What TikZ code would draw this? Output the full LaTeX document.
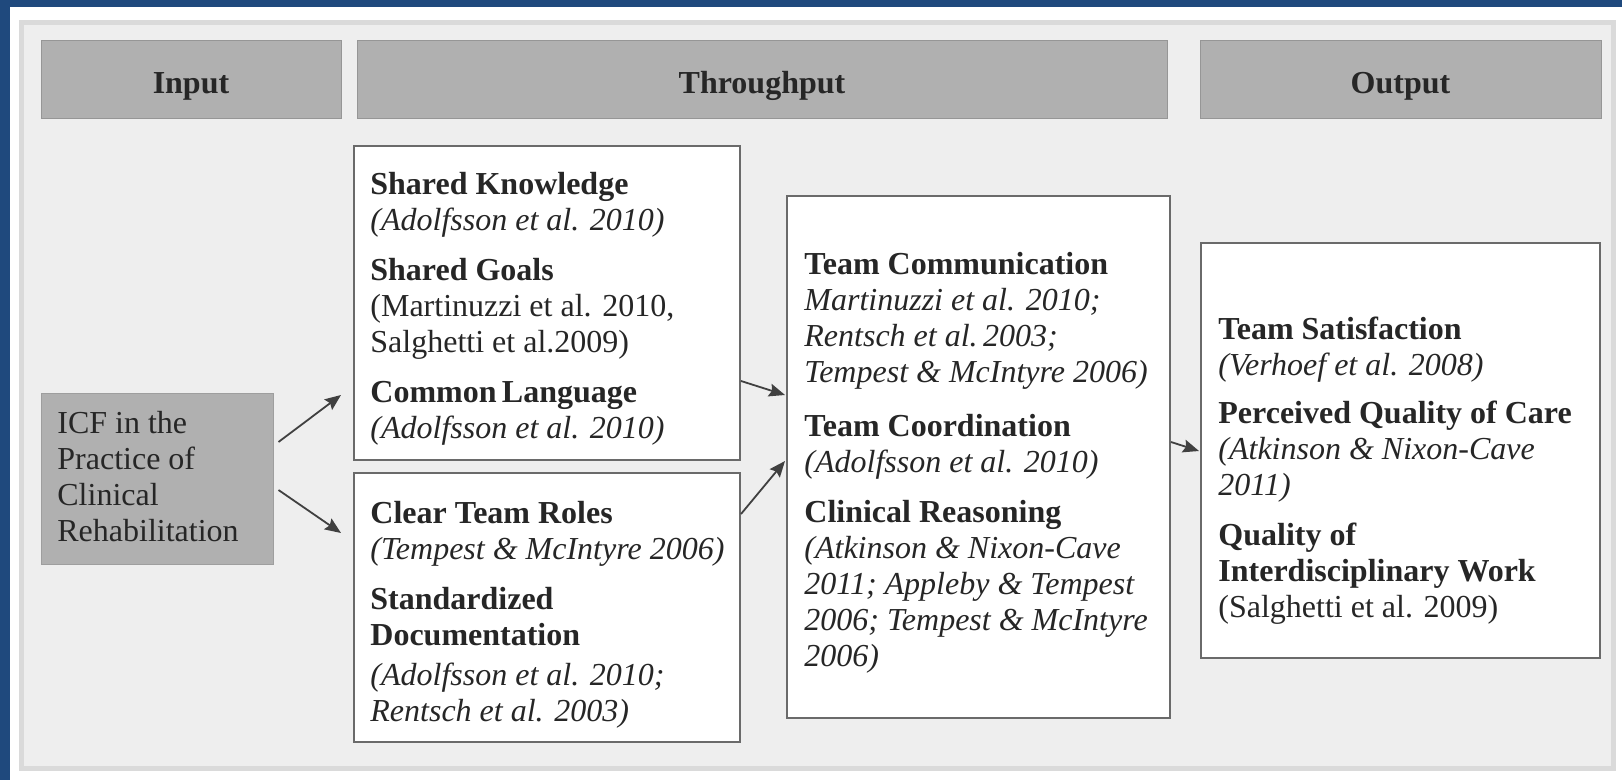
\documentclass[tikz,border=0pt]{standalone}
\usepackage{fontspec}
\setmainfont{Liberation Serif}
\usepackage{tikz}
\usetikzlibrary{arrows.meta,calc}

\definecolor{frameblue}{HTML}{1F497D}
\definecolor{panelgray}{HTML}{EEEEEE}
\definecolor{panelline}{HTML}{DADADA}
\definecolor{headgray}{HTML}{B0B0B0}
\definecolor{boxline}{HTML}{6A6A6A}
\definecolor{arrowgray}{HTML}{404040}

\begin{document}
\begin{tikzpicture}[x=0.5pt,y=-0.5pt,
  every node/.style={font=\fontsize{16}{18}\selectfont, text=black!85},
  head/.style={fill=headgray, draw=headgray!85!black, line width=0.5pt, text height=13.4pt, text depth=0pt,
    font=\fontsize{16}{18}\selectfont\bfseries},
  wbox/.style={draw=boxline, fill=white, line width=1pt},
  txt/.style={anchor=north west, align=left, inner sep=0pt},
  arr/.style={draw=arrowgray, line width=0.9pt, -{Stealth[length=8pt,width=6.5pt,inset=1.2pt]}}]

  \useasboundingbox (0,0) rectangle (1622,780);
  \fill[white] (0,0) rectangle (1622,780);
  \fill[frameblue] (0,0) rectangle (1622,7); % top border
  \fill[frameblue] (0,0) rectangle (10,780); % left border
  \filldraw[fill=panelgray, draw=panelline, line width=2.5pt] (21,23) rectangle (1613,768); % panel

  % Headers
  \node[head, minimum width=150pt, minimum height=39pt] (inp) at (191,80) {Input};
  \node[head, minimum width=405pt, minimum height=39pt] (thr) at (762,80) {Throughput};
  \node[head, minimum width=200.5pt, minimum height=39pt] (outp) at (1400.5,80) {Output};

  % Input
  \node[fill=headgray, draw=headgray!90!black, line width=0.5pt, minimum width=116pt, minimum height=85pt] (icf) at (157,479) {};
  \node[txt] (icftext) at (57,411) {ICF in the\\ Practice of\\ Clinical\\ Rehabilitation};

  % Throughput, first column
  \node[wbox, minimum width=193pt, minimum height=157pt] (know) at (547,303) {};
  \node[txt] (knowtext) at (370,172) {\textbf{Shared Knowledge}\\ \textit{(Adolfsson et al. 2010)}\\[7pt]
    \textbf{Shared Goals}\\ (Martinuzzi et al. 2010,\\ Salghetti et al.2009)\\[7pt]
    \textbf{Common\,Language}\\ \textit{(Adolfsson et al. 2010)}};

  \node[wbox, minimum width=193pt, minimum height=134.5pt] (roles) at (547,607.5) {};
  \node[txt] (rolestext) at (370,501) {\textbf{Clear Team Roles}\\ \textit{(Tempest \& McIntyre 2006)}\\[7pt]
    \textbf{Standardized}\\ \textbf{Documentation}\\[2pt] \textit{(Adolfsson et al. 2010;}\\ \textit{Rentsch et al. 2003)}};

  % Throughput, second column
  \node[wbox, minimum width=191.5pt, minimum height=261pt] (comm) at (978.5,457) {};
  \node[txt] (commtext) at (804,252) {\textbf{Team Communication}\\ \textit{Martinuzzi et al. 2010;}\\
    \textit{Rentsch et al.\,2003;}\\ \textit{Tempest \& McIntyre 2006)}\\[9pt]
    \textbf{Team Coordination}\\ \textit{(Adolfsson et al. 2010)}\\[7pt]
    \textbf{Clinical Reasoning}\\ \textit{(Atkinson \& Nixon-Cave}\\ \textit{2011; Appleby \& Tempest}\\
    \textit{2006; Tempest \& McIntyre}\\ \textit{2006)}};

  % Output
  \node[wbox, minimum width=199.5pt, minimum height=207.5pt] (sat) at (1400.5,450.5) {};
  \node[txt] (sattext) at (1218,317) {\textbf{Team Satisfaction}\\ \textit{(Verhoef et al. 2008)}\\[6pt]
    \textbf{Perceived Quality of Care}\\ \textit{(Atkinson \& Nixon-Cave}\\ \textit{2011)}\\[7pt]
    \textbf{Quality of}\\ \textbf{Interdisciplinary Work}\\ (Salghetti et al. 2009)};

  % Arrows
  \draw[arr] ($(icf.east)+(5,-37)$) -- ($(know.west)+(-12,92)$);
  \draw[arr] ($(icf.east)+(5,11)$) -- ($(roles.west)+(-12,-74.5)$);
  \draw[arr] ($(know.east)+(0,78)$) -- ($(comm.west)+(-1,-62)$);
  \draw[arr] ($(roles.east)+(0,-93.5)$) -- ($(comm.west)+(-1,4)$);
  \draw[arr] ($(comm.east)+(0,-15)$) -- ($(sat.west)+(-1,0.5)$);
\end{tikzpicture}
\end{document}
